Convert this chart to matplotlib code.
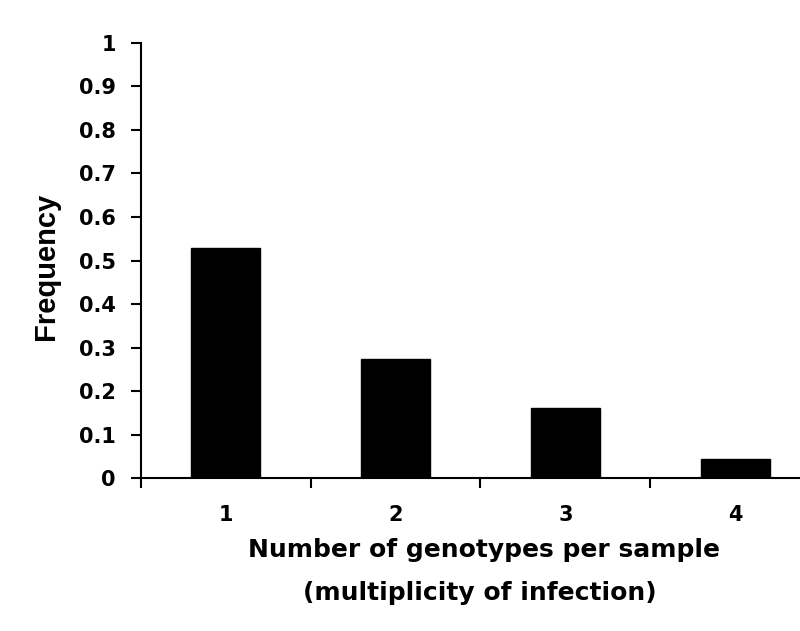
import matplotlib
matplotlib.use("Agg")
from matplotlib import pyplot as plt

categories = ['1', '2', '3', '4']
frequency = [0.529, 0.275, 0.161, 0.044]
y_ticks = [0, 0.1, 0.2, 0.3, 0.4, 0.5, 0.6, 0.7, 0.8, 0.9, 1]
y_tick_labels = ['0', '0.1', '0.2', '0.3', '0.4', '0.5', '0.6', '0.7', '0.8', '0.9', '1']
x_title = ['Number of genotypes per sample', '(multiplicity of infection)']

plt.rcParams['font.family'] = ['DejaVu Sans']
plt.rcParams['font.weight'] = 'bold'

fig = plt.figure(figsize=(8, 6.31), dpi=100)
ax = fig.add_axes([0.17625, 0.242, 0.84875, 0.6903])

x = list(range(1, len(categories) + 1))
ax.bar(x, frequency, width=0.406, color='black', edgecolor='black')

ax.set_xlim(0.5, len(categories) + 0.5)
ax.set_ylim(0, 1)

ax.spines['top'].set_visible(False)
ax.spines['right'].set_visible(False)
ax.spines['left'].set_linewidth(1.5)
ax.spines['bottom'].set_linewidth(1.5)

ax.set_yticks(y_ticks)
ax.set_yticklabels(y_tick_labels, fontsize=15, fontweight='bold')
ax.tick_params(axis='y', direction='out', length=7, width=1.5, pad=11)

# category labels at centers, tick marks at boundaries
ax.set_xticks(x)
ax.set_xticklabels(categories, fontsize=15, fontweight='bold')
ax.tick_params(axis='x', which='major', length=0, pad=19)
ax.set_xticks([i + 0.5 for i in range(len(categories) + 1)], minor=True)
ax.tick_params(axis='x', which='minor', direction='out', length=7, width=1.5)

fig.text(0.0575, 0.5785, 'Frequency', rotation=90, ha='center', va='center',
         fontsize=21, fontweight='bold', family='Liberation Sans')
fig.text(0.605, 0.1173, x_title[0], ha='center', va='baseline',
         fontsize=18, fontweight='bold')
fig.text(0.600, 0.0491, x_title[1], ha='center', va='baseline',
         fontsize=18, fontweight='bold')

fig.savefig('out.png', dpi=100)
